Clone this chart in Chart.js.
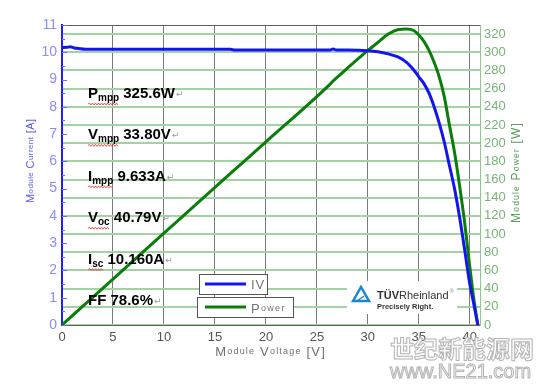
<!DOCTYPE html>
<html>
<head>
<meta charset="utf-8">
<script src="https://cdn.jsdelivr.net/npm/chart.js@4.4.0/dist/chart.umd.min.js"></script>
<style>
  body { margin: 0; background: #fff; }
</style>
</head>
<body>
<canvas id="ivChart" width="546" height="385"></canvas>
<script>
const voltage = [0, 0.5, 0.8, 1.2, 1.6, 2.3, 5, 10, 16.5, 17, 20, 26.3, 26.6, 26.9, 28, 30, 31, 32, 33, 33.8,
  34.5, 35, 35.5, 36, 36.5, 37, 37.5, 38, 38.5, 39, 39.5, 40, 40.4, 40.79];
const current = [10.17, 10.18, 10.2, 10.16, 10.14, 10.11, 10.11, 10.11, 10.11, 10.08, 10.08, 10.08, 10.12, 10.08, 10.08, 10.06, 10.02, 9.94, 9.82, 9.63,
  9.35, 9.1, 8.85, 8.5, 8.0, 7.4, 6.7, 5.85, 5.0, 3.95, 2.75, 1.5, 0.75, 0];
const power = [0, 5.1, 8.1, 12.2, 16.2, 23.3, 50.5, 101, 166.5, 171.5, 201.5, 265, 268.5, 271.5, 282.5, 302, 311, 320, 325, 325.6,
  324, 319, 312, 302, 289, 273, 251, 220, 190, 153, 112, 64, 28, 0];

const specNames = ['P', 'V', 'I', 'V', 'I', 'FF'];
const specSubs = ['mpp', 'mpp', 'mpp', 'oc', 'sc', ''];
const specValues = ['325.6W', '33.80V', '9.633A', '40.79V', '10.160A', '78.6%'];

const FONT = '"Liberation Sans", Arial, sans-serif';

// text with large capitals and small, spaced lower case (like the original axis titles)
function capsText(ctx, text, big, small, gap, align) {
  const segs = [];
  let total = 0;
  for (const ch of text) {
    const sz = /[a-z]/.test(ch) ? small : big;
    ctx.font = sz + 'px ' + FONT;
    const w = ctx.measureText(ch).width;
    segs.push([ch, sz, w]);
    total += w + gap;
  }
  total -= gap;
  let x = align === 'left' ? 0 : -total / 2;
  ctx.textAlign = 'left';
  for (const s of segs) {
    ctx.font = s[1] + 'px ' + FONT;
    ctx.fillText(s[0], x, 0);
    x += s[2] + gap;
  }
}

function squiggle(ctx, x0, x1, y) {
  ctx.save();
  ctx.strokeStyle = '#e03030';
  ctx.lineWidth = 0.8;
  ctx.beginPath();
  ctx.moveTo(x0, y);
  let up = true;
  for (let x = x0 + 1.5; x <= x1; x += 1.5) {
    ctx.lineTo(x, y + (up ? -1 : 1));
    up = !up;
  }
  ctx.stroke();
  ctx.restore();
}

const extras = {
  id: 'extras',
  afterDatasetsDraw(chart) {
    const ctx = chart.ctx;
    const a = chart.chartArea;
    ctx.save();

    // top frame line
    ctx.strokeStyle = '#606060';
    ctx.lineWidth = 1;
    ctx.beginPath();
    ctx.moveTo(a.left, a.top + 0.5);
    ctx.lineTo(a.right, a.top + 0.5);
    ctx.stroke();

    // small blue ticks inside the current axis
    const ys = chart.scales.y;
    ctx.strokeStyle = '#6a6aff';
    for (let v = 0; v <= 11; v += 0.5) {
      const py = Math.round(ys.getPixelForValue(v)) + 0.5;
      ctx.beginPath();
      ctx.moveTo(a.left, py);
      ctx.lineTo(a.left + (v % 1 === 0 ? 5 : 3), py);
      ctx.stroke();
    }

    // module parameters
    ctx.textBaseline = 'alphabetic';
    ctx.textAlign = 'left';
    for (let i = 0; i < specNames.length; i++) {
      const x = 88;
      const y = 98 + i * 41.4;
      ctx.fillStyle = '#000';
      ctx.font = 'bold 15px ' + FONT;
      ctx.fillText(specNames[i], x, y);
      let cx = x + ctx.measureText(specNames[i]).width;
      if (specSubs[i]) {
        ctx.font = 'bold 10px ' + FONT;
        ctx.fillText(specSubs[i], cx, y + 3);
        cx += ctx.measureText(specSubs[i]).width;
        squiggle(ctx, x, cx, y + 6);
      }
      ctx.font = 'bold 15px ' + FONT;
      const rest = ' ' + specValues[i];
      ctx.fillText(rest, cx, y);
      cx += ctx.measureText(rest).width;
      ctx.fillStyle = '#999';
      ctx.font = '9px "DejaVu Sans"';
      ctx.fillText('\u21B5', cx + 1, y - 1);
    }

    // legend
    ctx.fillStyle = '#fff';
    ctx.strokeStyle = '#555';
    ctx.lineWidth = 1;
    ctx.fillRect(199.5, 274.5, 68, 20);
    ctx.strokeRect(199.5, 274.5, 68, 20);
    ctx.fillRect(197.5, 297.5, 96, 20);
    ctx.strokeRect(197.5, 297.5, 96, 20);
    ctx.lineWidth = 3;
    ctx.strokeStyle = '#1414f0';
    ctx.beginPath(); ctx.moveTo(205, 284); ctx.lineTo(246, 284); ctx.stroke();
    ctx.strokeStyle = '#0a7d0a';
    ctx.beginPath(); ctx.moveTo(205, 307); ctx.lineTo(246, 307); ctx.stroke();
    ctx.fillStyle = '#777';
    ctx.textBaseline = 'middle';
    ctx.save(); ctx.translate(251, 285); capsText(ctx, 'IV', 13, 10, 1, 'left'); ctx.restore();
    ctx.save(); ctx.translate(251, 309); capsText(ctx, 'Power', 13, 9, 1.3, 'left'); ctx.restore();

    // axis titles
    ctx.textBaseline = 'middle';
    ctx.fillStyle = '#5a5af0';
    ctx.save(); ctx.translate(31, 161); ctx.rotate(-Math.PI / 2); capsText(ctx, 'Module Current [A]', 11, 8, 0.4); ctx.restore();
    ctx.fillStyle = '#5aa05a';
    ctx.save(); ctx.translate(517, 173); ctx.rotate(-Math.PI / 2); capsText(ctx, 'Module Power [W]', 12, 8.5, 1.2); ctx.restore();
    ctx.fillStyle = '#707070';
    ctx.save(); ctx.translate(270, 352); capsText(ctx, 'Module Voltage [V]', 13, 9, 1.2); ctx.restore();

    // TUV logo
    ctx.fillStyle = '#fff';
    ctx.fillRect(347, 281, 110, 33);
    ctx.strokeStyle = '#1a86cc';
    ctx.lineWidth = 2.5;
    ctx.beginPath();
    ctx.moveTo(353, 301); ctx.lineTo(361, 287); ctx.lineTo(369, 301); ctx.closePath();
    ctx.stroke();
    ctx.lineWidth = 1.5;
    ctx.beginPath(); ctx.moveTo(357, 301); ctx.lineTo(364, 296); ctx.stroke();
    ctx.textBaseline = 'alphabetic';
    ctx.textAlign = 'left';
    ctx.fillStyle = '#333';
    ctx.font = 'bold 11px ' + FONT;
    ctx.fillText('T\u00DCV', 377, 299);
    let tx = 377 + ctx.measureText('T\u00DCV').width;
    ctx.font = '11px ' + FONT;
    ctx.fillText('Rheinland', tx, 299);
    tx += ctx.measureText('Rheinland').width;
    ctx.font = '6px ' + FONT;
    ctx.fillStyle = '#888';
    ctx.fillText('\u00AE', tx + 1, 293);
    ctx.fillStyle = '#333';
    ctx.font = 'bold 7.5px ' + FONT;
    ctx.fillText('Precisely Right.', 377, 309);

    // watermark
    ctx.lineWidth = 1;
    ctx.strokeStyle = '#b4b4b4';
    ctx.fillStyle = '#fcfcfc';
    ctx.font = 'bold 24px "Noto Sans CJK SC"';
    ctx.fillText('\u4E16\u7EAA\u65B0\u80FD\u6E90\u7F51', 390, 358, 148);
    ctx.strokeText('\u4E16\u7EAA\u65B0\u80FD\u6E90\u7F51', 390, 358, 148);
    ctx.font = '20px ' + FONT;
    ctx.fillText('www.NE21.com', 390, 378, 148);
    ctx.strokeText('www.NE21.com', 390, 378, 148);

    ctx.restore();
  }
};

const ivPoints = voltage.map((v, i) => ({ x: v, y: current[i] }));
const powerPoints = voltage.map((v, i) => ({ x: v, y: power[i] }));

new Chart(document.getElementById('ivChart'), {
  type: 'line',
  data: {
    datasets: [{
      label: 'IV',
      data: ivPoints,
      yAxisID: 'y',
      borderColor: '#1414f0',
      borderWidth: 3,
      pointRadius: 0,
      cubicInterpolationMode: 'monotone'
    }, {
      label: 'Power',
      data: powerPoints,
      yAxisID: 'y1',
      borderColor: '#0a7d0a',
      borderWidth: 3,
      pointRadius: 0,
      cubicInterpolationMode: 'monotone'
    }]
  },
  options: {
    responsive: false,
    animation: false,
    layout: { padding: { top: 25, left: 0, right: 0, bottom: 0 } },
    plugins: { legend: { display: false }, tooltip: { enabled: false } },
    scales: {
      x: {
        type: 'linear',
        min: 0,
        max: 41,
        afterFit: s => { s.height = 60; },
        ticks: { stepSize: 5, includeBounds: false, color: '#555', padding: 5, font: { size: 13, family: FONT } },
        grid: { color: '#7a7a7a', lineWidth: 1, drawTicks: false },
        border: { color: '#606060' }
      },
      y: {
        position: 'left',
        min: 0,
        max: 11,
        afterFit: s => { s.width = 62; },
        ticks: { stepSize: 1, color: '#8c8cff', padding: 5, font: { size: 14, family: FONT } },
        grid: { display: false, drawTicks: false },
        border: { color: '#2020ff', width: 2 }
      },
      y1: {
        position: 'right',
        min: 0,
        max: 330,
        afterFit: s => { s.width = 66; },
        ticks: { stepSize: 20, includeBounds: false, color: '#78b478', padding: 4, font: { size: 13, family: FONT } },
        grid: { color: '#a3d3a3', lineWidth: 2, drawTicks: false },
        border: { color: '#8fc88f', width: 1 }
      }
    }
  },
  plugins: [extras]
});
</script>
</body>
</html>
